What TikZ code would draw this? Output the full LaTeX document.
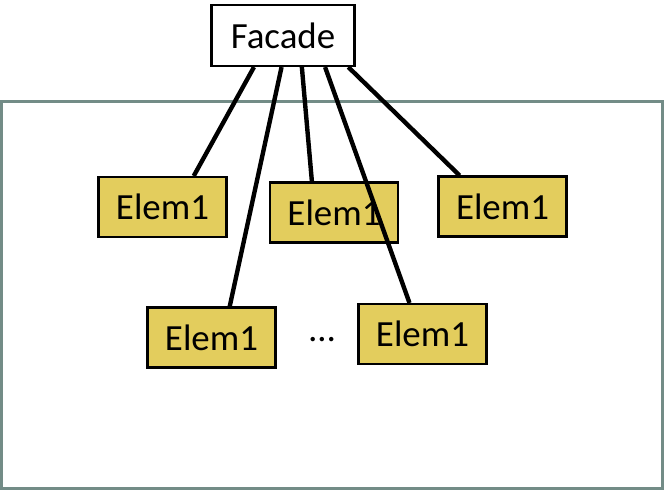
\documentclass[tikz,border=0pt]{standalone}
\usepackage{fontspec}
\setmainfont{Carlito}
\usetikzlibrary{calc}
\definecolor{elemfill}{HTML}{E3CD5D}
\definecolor{frame}{HTML}{738C87}
\tikzset{
  elembox/.style={draw=black, line width=1.2pt, fill=elemfill, minimum width=2.56cm, minimum height=1.2cm, inner sep=0pt, font=\fontsize{21}{25}\selectfont},
  facadebox/.style={draw=black, line width=1.2pt, fill=white, minimum width=2.86cm, minimum height=1.22cm, inner sep=0pt, font=\fontsize{21}{25}\selectfont},
  link/.style={line width=2.5pt}
}
\begin{document}
\begin{tikzpicture}[x=0.02cm, y=-0.02cm]
        \useasboundingbox (0,0) rectangle (665,491);

        % Subsystem frame
        \draw[frame, line width=1.7pt] (1.5,101) rectangle (662,488.5);

        % Facade
        \node[facadebox] (facade) at (283,35.5) {Facade};

        % Elements
        \node[elembox] (elemA) at (162.5,207) {Elem1};
        \node[elembox] (elemB) at (334,212.5) {Elem1};
        \node[elembox] (elemC) at (502.5,206.5) {Elem1};
        \node[elembox] (elemD) at (211.5,337.5) {Elem1};
        \node[elembox] (elemE) at (422.5,334) {Elem1};
        \node (dots) at (322,340) {\fontsize{21}{25}\selectfont\ldots};

        % Links from facade
        \draw[link] ($(facade.south west)!0.30!(facade.south east)$) -- ($(elemA.north west)!0.74!(elemA.north east)$);
        \draw[link] ($(facade.south west)!0.49!(facade.south east)$) -- ($(elemD.north west)!0.64!(elemD.north east)$);
        \draw[link] ($(facade.south west)!0.63!(facade.south east)$) -- ($(elemB.north west)!0.33!(elemB.north east)$);
        \draw[link] ($(facade.south west)!0.79!(facade.south east)$) -- ($(elemE.north west)!0.40!(elemE.north east)$);
        \draw[link] ($(facade.south west)!0.95!(facade.south east)$) -- ($(elemC.north west)!0.17!(elemC.north east)$);
    \end{tikzpicture}
\end{document}
